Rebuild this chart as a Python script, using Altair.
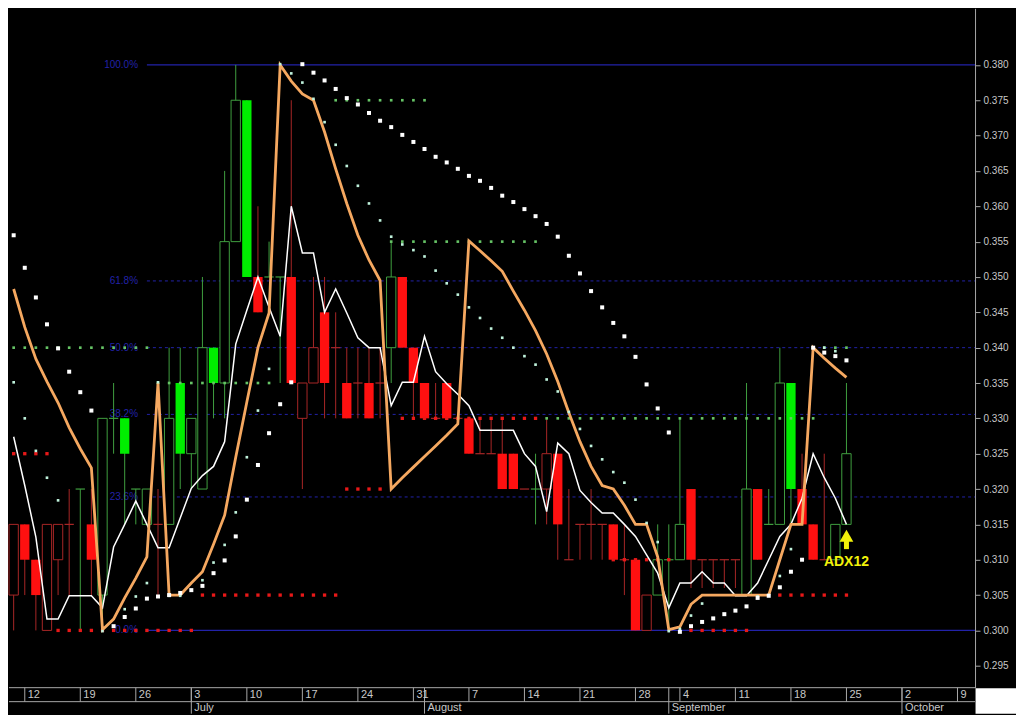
import altair as alt
import pandas as pd

# ---------------- layout ----------------
W, H = 967, 680          # plot area
ROW1, ROW2 = 14, 26      # bottom band rows (day row, month row)
RIGHT = 41               # right axis strip

X_MIN, X_MAX = -1.42, 85.58      # trading-day index domain (0 = 12 June)
Y_MIN, Y_MAX = 0.2919, 0.3880

BG = "black"
AX_LINE = "#a8a8a8"
AX_TEXT = "#c8c8c8"
G_FILL, G_LINE = "#00ee00", "#3f9f3f"
R_FILL, R_LINE = "#ff1010", "#a82626"
FIB = "#2222a8"
ORANGE = "#f5a860"
YELLOW = "#f2f20a"

# ---------------- data ----------------
idx = list(range(-1, 75))
opens = [0.305, 0.315, 0.310, 0.300, 0.310, 0.315, 0.320, 0.315, 0.305, 0.330,
         0.330, 0.320, 0.315, 0.315, 0.315, 0.335, 0.325, 0.320, 0.340, 0.335,
         0.355, 0.375, 0.350, 0.350, 0.350, 0.350, 0.330, 0.335, 0.345, 0.340,
         0.335, 0.335, 0.335, 0.335, 0.340, 0.350, 0.340, 0.335, 0.330, 0.335,
         0.330, 0.330, 0.325, 0.325, 0.325, 0.325, 0.320, 0.320, 0.320, 0.325,
         0.310, 0.315, 0.315, 0.315, 0.315, 0.310, 0.310, 0.300, 0.305, 0.310,
         0.310, 0.320, 0.310, 0.310, 0.310, 0.310, 0.305, 0.320, 0.315, 0.315,
         0.335, 0.320, 0.315, 0.310, 0.310, 0.315]
highs = [0.315, 0.315, 0.310, 0.315, 0.315, 0.320, 0.320, 0.320, 0.330, 0.335,
         0.330, 0.320, 0.320, 0.320, 0.340, 0.340, 0.330, 0.350, 0.340, 0.365,
         0.380, 0.375, 0.360, 0.355, 0.350, 0.375, 0.335, 0.350, 0.350, 0.345,
         0.340, 0.340, 0.340, 0.340, 0.355, 0.350, 0.340, 0.335, 0.335, 0.335,
         0.330, 0.330, 0.330, 0.330, 0.330, 0.325, 0.320, 0.325, 0.330, 0.325,
         0.320, 0.315, 0.320, 0.315, 0.315, 0.315, 0.310, 0.305, 0.315, 0.315,
         0.330, 0.320, 0.310, 0.310, 0.310, 0.310, 0.335, 0.320, 0.320, 0.340,
         0.335, 0.325, 0.315, 0.325, 0.315, 0.335]
lows = [0.300, 0.305, 0.300, 0.300, 0.305, 0.305, 0.300, 0.305, 0.300, 0.325,
        0.315, 0.315, 0.315, 0.305, 0.315, 0.320, 0.320, 0.320, 0.330, 0.330,
        0.355, 0.350, 0.345, 0.350, 0.335, 0.335, 0.320, 0.335, 0.330, 0.330,
        0.330, 0.330, 0.330, 0.330, 0.335, 0.340, 0.330, 0.330, 0.330, 0.330,
        0.330, 0.325, 0.325, 0.325, 0.320, 0.320, 0.320, 0.315, 0.315, 0.310,
        0.310, 0.310, 0.310, 0.310, 0.310, 0.305, 0.300, 0.300, 0.305, 0.300,
        0.310, 0.306, 0.306, 0.306, 0.306, 0.306, 0.305, 0.310, 0.315, 0.315,
        0.315, 0.315, 0.310, 0.310, 0.310, 0.315]
closes = [0.315, 0.310, 0.305, 0.315, 0.315, 0.315, 0.320, 0.310, 0.330, 0.330,
          0.325, 0.320, 0.320, 0.315, 0.330, 0.325, 0.330, 0.340, 0.335, 0.355,
          0.375, 0.350, 0.345, 0.350, 0.350, 0.335, 0.335, 0.340, 0.335, 0.340,
          0.330, 0.335, 0.330, 0.335, 0.350, 0.340, 0.335, 0.330, 0.330, 0.330,
          0.330, 0.325, 0.325, 0.325, 0.320, 0.320, 0.320, 0.320, 0.325, 0.315,
          0.310, 0.315, 0.315, 0.315, 0.310, 0.310, 0.300, 0.305, 0.310, 0.310,
          0.315, 0.310, 0.310, 0.310, 0.310, 0.310, 0.320, 0.310, 0.315, 0.335,
          0.320, 0.315, 0.310, 0.310, 0.315, 0.325]
colors = ["r", "r", "r", "r", "r", "r", "g", "r", "g", "g",
          "g", "g", "g", "r", "g", "g", "g", "g", "g", "g",
          "g", "g", "r", "g", "g", "r", "r", "r", "r", "r",
          "r", "r", "r", "r", "g", "r", "r", "r", "r", "r",
          "r", "r", "r", "r", "r", "r", "r", "g", "r", "r",
          "r", "r", "r", "r", "r", "r", "r", "r", "g", "g",
          "g", "r", "r", "r", "r", "r", "g", "r", "g", "g",
          "g", "r", "r", "r", "g", "g"]
styles = ["hollow", "filled", "filled", "hollow", "hollow", "doji", "doji", "filled", "hollow", "doji",
          "filled", "doji", "hollow", "doji", "hollow", "filled", "hollow", "hollow", "filled", "hollow",
          "hollow", "filled", "filled", "doji", "doji", "filled", "hollow", "hollow", "filled", "doji",
          "filled", "doji", "filled", "doji", "hollow", "filled", "filled", "filled", "doji", "filled",
          "doji", "filled", "doji", "doji", "filled", "filled", "doji", "doji", "hollow", "filled",
          "doji", "doji", "doji", "doji", "filled", "doji", "filled", "hollow", "hollow", "doji",
          "hollow", "filled", "doji", "doji", "doji", "doji", "hollow", "filled", "doji", "hollow",
          "filled", "filled", "filled", "doji", "hollow", "hollow"]

white_line = [0.3274, 0.3205, 0.3132, 0.3016, 0.3016, 0.3049, 0.3049, 0.3049, 0.3032, 0.3118,
              0.3150, 0.3183, 0.3150, 0.3117, 0.3117, 0.3159, 0.3201, 0.3219, 0.3232, 0.3267,
              0.3405, 0.3453, 0.3500, 0.3457, 0.3416, 0.3600, 0.3534, 0.3534, 0.3450, 0.3483,
              0.3449, 0.3414, 0.3400, 0.3400, 0.3318, 0.3351, 0.3351, 0.3416, 0.3366, 0.3349,
              0.3334, 0.3318, 0.3283, 0.3283, 0.3283, 0.3283, 0.3250, 0.3232, 0.3168, 0.3265,
              0.3250, 0.3198, 0.3181, 0.3166, 0.3166, 0.3150, 0.3133, 0.3107, 0.3081, 0.3032,
              0.3067, 0.3067, 0.3083, 0.3067, 0.3067, 0.3049, 0.3049, 0.3067, 0.3100, 0.3133,
              0.3150, 0.3187, 0.3250, 0.3216, 0.3187, 0.3150]
orange_line = [0.3483, 0.3429, 0.3384, 0.3352, 0.3322, 0.3287, 0.3257, 0.3230, 0.3001, 0.3016,
               0.3046, 0.3074, 0.3104, 0.3350, 0.3050, 0.3050, 0.3067, 0.3083, 0.3122, 0.3163,
               0.3245, 0.3323, 0.3400, 0.3449, 0.3800, 0.3777, 0.3759, 0.3750, 0.3705, 0.3653,
               0.3604, 0.3559, 0.3524, 0.3495, 0.3200, 0.3216, 0.3231, 0.3246, 0.3261, 0.3276,
               0.3292, 0.3551, 0.3537, 0.3523, 0.3508, 0.3480, 0.3453, 0.3424, 0.3391, 0.3352,
               0.3308, 0.3267, 0.3232, 0.3205, 0.3200, 0.3177, 0.3150, 0.3150, 0.3104, 0.3001,
               0.3005, 0.3037, 0.3050, 0.3050, 0.3050, 0.3050, 0.3050, 0.3050, 0.3050, 0.3100,
               0.3150, 0.3150, 0.3400, 0.3385, 0.3371, 0.3358]
sar_white = [0.3559, 0.3513, 0.3471, 0.3433, 0.3399, 0.3366, 0.3337, 0.3311, None, 0.3006,
             0.3019, 0.3031, 0.3045, 0.3048, 0.3050, 0.3053, 0.3057, 0.3063, 0.3081, 0.3099,
             0.3133, 0.3185, 0.3234, 0.3279, 0.3320, 0.3351, 0.3801, 0.3789, 0.3778, 0.3766,
             0.3753, 0.3744, 0.3732, 0.3721, 0.3712, 0.3701, 0.3691, 0.3681, 0.3670, 0.3662,
             0.3653, 0.3643, 0.3636, 0.3626, 0.3615, 0.3606, 0.3596, 0.3586, 0.3575, 0.3557,
             0.3530, 0.3505, 0.3480, 0.3457, 0.3435, 0.3416, 0.3387, 0.3348, 0.3314, 0.3280,
             0.2998, 0.3006, 0.3012, 0.3017, 0.3023, 0.3028, 0.3034, 0.3046, 0.3049, 0.3061,
             0.3083, 0.3100, 0.3400, 0.3393, 0.3388, 0.3382]
sar_small = [0.3351, 0.3300, 0.3254, 0.3216, 0.3184, None, None, None, 0.2999, None,
             0.3030, 0.3048, 0.3067, 0.3351, 0.3049, 0.3049, None, 0.3071, 0.3096, 0.3121,
             0.3167, 0.3245, 0.3311, 0.3370, 0.3801, 0.3788, 0.3775, 0.3752, 0.3719, 0.3687,
             0.3657, 0.3629, 0.3604, 0.3580, 0.3557, 0.3546, 0.3538, 0.3529, 0.3509, 0.3491,
             0.3475, 0.3457, 0.3442, 0.3427, 0.3414, 0.3400, 0.3388, 0.3376, 0.3355, 0.3338,
             0.3309, 0.3285, 0.3261, 0.3242, 0.3224, 0.3209, 0.3185, 0.3152, 0.3125, 0.2999,
             0.3002, 0.3021, 0.3038, None, None, None, None, 0.3048, 0.3050, 0.3077,
             0.3115, None, None, 0.3400, 0.3395, None]

# dotted support / resistance levels
lvl_start = [-1, 12, 28, 33, 47, 72, -1, 3, 16, 29, 34, 53, 60, 68]
lvl_end = [11, 22, 36, 46, 71, 74, 2, 15, 28, 32, 46, 58, 65, 74]
lvl_price = [0.340, 0.335, 0.375, 0.355, 0.330, 0.340, 0.325, 0.300, 0.305, 0.320,
             0.330, 0.310, 0.300, 0.305]
lvl_kind = ["g", "g", "g", "g", "g", "g", "r", "r", "r", "r", "r", "r", "r", "r"]

# Fibonacci retracement
fib_price = [0.380, 0.34944, 0.340, 0.33056, 0.31888, 0.300]
fib_label = ["100.0%", "61.8%", "50.0%", "38.2%", "23.6%", "0.0%"]
fib_solid = [True, False, False, False, False, True]
FIB_FROM = 11.0      # index where the retracement lines begin
FIB_LABEL_AT = 10.2  # index where the labels end

# axes
y_ticks = [0.295, 0.300, 0.305, 0.310, 0.315, 0.320, 0.325, 0.330, 0.335, 0.340,
           0.345, 0.350, 0.355, 0.360, 0.365, 0.370, 0.375, 0.380]
day_tick_idx = [0, 5, 10, 15, 20, 25, 30, 35, 40, 45, 50, 55, 59, 64, 69, 74, 79, 84]
day_tick_label = ["12", "19", "26", "3", "10", "17", "24", "31", "7", "14", "21", "28",
                  "4", "11", "18", "25", "2", "9"]
month_idx = [15, 36, 58, 79]
month_label = ["July", "August", "September", "October"]

# annotation
ann_idx = [74]
ann_arrow_head = [0.3134]
ann_shaft_top = [0.3127]
ann_shaft_bot = [0.3115]
ann_text_y = [0.3097]
ann_text = ["ADX12"]

# ---------------- frames ----------------
cd = pd.DataFrame(dict(idx=idx, o=opens, h=highs, l=lows, c=closes, col=colors, sty=styles))
cd["lo"] = cd[["o", "c"]].min(axis=1)
cd["hi"] = cd[["o", "c"]].max(axis=1)
cd["x0"] = cd["idx"] - 0.42
cd["x1"] = cd["idx"] + 0.42

lines = pd.DataFrame(dict(idx=idx, white=white_line, orange=orange_line))
dots_w = pd.DataFrame(dict(idx=idx, v=sar_white)).dropna()
dots_s = pd.DataFrame(dict(idx=idx, v=sar_small)).dropna()

lv_rows = []
for s, e, p, k in zip(lvl_start, lvl_end, lvl_price, lvl_kind):
    for i in range(s, e + 1):
        lv_rows.append(dict(idx=i, v=p, kind=k))
lv = pd.DataFrame(lv_rows)

fib = pd.DataFrame(dict(p=fib_price, label=fib_label, solid=fib_solid))
fib["x0"] = FIB_FROM
fib["x1"] = X_MAX
fib["xl"] = FIB_LABEL_AT

days = pd.DataFrame(dict(idx=day_tick_idx, label=day_tick_label))
months = pd.DataFrame(dict(idx=month_idx, label=month_label))
ann = pd.DataFrame(dict(idx=ann_idx, head=ann_arrow_head, st=ann_shaft_top,
                        sb=ann_shaft_bot, ty=ann_text_y, text=ann_text))
one = pd.DataFrame({"a": [0]})

xs = alt.Scale(domain=[X_MIN, X_MAX], nice=False, zero=False)
ys = alt.Scale(domain=[Y_MIN, Y_MAX], nice=False, zero=False)

Y_AX = alt.Axis(orient="right", values=y_ticks, format=".3f", grid=False, title=None,
                domainColor=AX_LINE, tickColor=AX_LINE, tickSize=5, labelPadding=3,
                labelColor=AX_TEXT, labelFont="Liberation Sans", labelFontSize=10)


def X(f):
    return alt.X(f"{f}:Q", scale=xs, axis=None)


def Y(f):
    return alt.Y(f"{f}:Q", scale=ys, axis=Y_AX)


IS_G = "datum.col == 'g'"
line_col = alt.condition(IS_G, alt.value(G_LINE), alt.value(R_LINE))
fill_col = alt.condition(IS_G, alt.value(G_FILL), alt.value(R_FILL))

# Fibonacci lines and labels
fib_solid_l = alt.Chart(fib).transform_filter("datum.solid").mark_rule(color=FIB, strokeWidth=1.3).encode(
    x=X("x0"), x2="x1", y=Y("p"))
fib_dash_l = alt.Chart(fib).transform_filter("!datum.solid").mark_rule(
    color=FIB, strokeWidth=1, strokeDash=[3, 3]).encode(x=X("x0"), x2="x1", y=Y("p"))
fib_txt = alt.Chart(fib).mark_text(align="right", baseline="middle", color=FIB,
                                   font="Liberation Sans", fontSize=10).encode(
    x=X("xl"), y=Y("p"), text="label:N")

# candles
wicks = alt.Chart(cd).mark_rule(strokeWidth=1).encode(x=X("idx"), y=Y("l"), y2="h", color=line_col)
filled = alt.Chart(cd).transform_filter("datum.sty == 'filled'").mark_rect().encode(
    x=X("x0"), x2="x1", y=Y("lo"), y2="hi", color=fill_col)
hollow = alt.Chart(cd).transform_filter("datum.sty == 'hollow'").mark_rect(
    fill=BG, strokeWidth=1).encode(x=X("x0"), x2="x1", y=Y("lo"), y2="hi", stroke=line_col)
doji = alt.Chart(cd).transform_filter("datum.sty == 'doji'").mark_rule(strokeWidth=1.2).encode(
    x=X("x0"), x2="x1", y=Y("o"), color=line_col)

# dotted levels
levels_g = alt.Chart(lv).transform_filter("datum.kind == 'g'").mark_square(
    size=7, opacity=1, color="#66c466").encode(x=X("idx"), y=Y("v"))
levels_r = alt.Chart(lv).transform_filter("datum.kind == 'r'").mark_square(
    size=11, opacity=1, color="#e81818").encode(x=X("idx"), y=Y("v"))

# indicator lines
wl = alt.Chart(lines).mark_line(color="white", strokeWidth=1.5).encode(x=X("idx"), y=Y("white"))
ol = alt.Chart(lines).mark_line(color=ORANGE, strokeWidth=2.8).encode(x=X("idx"), y=Y("orange"))

# SAR dots
dw = alt.Chart(dots_w).mark_square(size=16, color="white", opacity=1).encode(x=X("idx"), y=Y("v"))
dsm = alt.Chart(dots_s).mark_square(size=7, color="#bff2dc", opacity=1).encode(x=X("idx"), y=Y("v"))

# annotation
head = alt.Chart(ann).mark_point(shape="triangle-up", size=190, filled=True, color=YELLOW,
                                 opacity=1).encode(x=X("idx"), y=Y("head"))
shaft = alt.Chart(ann).mark_rule(color=YELLOW, strokeWidth=5).encode(x=X("idx"), y=Y("sb"), y2="st")
atxt = alt.Chart(ann).mark_text(color=YELLOW, fontSize=14, fontWeight="bold", font="Liberation Sans",
                                baseline="middle", align="center").encode(
    x=X("idx"), y=Y("ty"), text="text:N")

# bottom band (date axis)
band_top = alt.Chart(one).mark_rule(color=AX_LINE).encode(
    x=alt.value(0), x2=alt.value(W), y=alt.value(H))
band_mid = alt.Chart(one).mark_rule(color=AX_LINE).encode(
    x=alt.value(0), x2=alt.value(W), y=alt.value(H + ROW1))
day_sep = alt.Chart(days).mark_rule(color=AX_LINE).encode(
    x=X("idx"), y=alt.value(H), y2=alt.value(H + ROW1))
day_txt = alt.Chart(days).mark_text(align="left", baseline="middle", dx=3, color=AX_TEXT,
                                    font="Liberation Sans", fontSize=11).encode(
    x=X("idx"), y=alt.value(H + ROW1 / 2 + 0.5), text="label:N")
mon_sep = alt.Chart(months).mark_rule(color=AX_LINE).encode(
    x=X("idx"), y=alt.value(H), y2=alt.value(H + ROW2))
mon_txt = alt.Chart(months).mark_text(align="left", baseline="middle", dx=3, color=AX_TEXT,
                                      font="Liberation Sans", fontSize=11).encode(
    x=X("idx"), y=alt.value(H + (ROW1 + ROW2) / 2 + 0.5), text="label:N")
corner = alt.Chart(one).mark_rect(color="white").encode(
    x=alt.value(W + 0.5), x2=alt.value(W + RIGHT), y=alt.value(H + 0.5), y2=alt.value(H + ROW2))

chart = alt.layer(
    fib_solid_l, fib_dash_l, fib_txt,
    wicks, filled, hollow, doji,
    levels_g, levels_r,
    wl, ol,
    dsm, dw,
    shaft, head, atxt,
    band_top, band_mid, day_sep, mon_sep, day_txt, mon_txt, corner,
).properties(
    width=W, height=H, background=BG,
    padding={"left": 0, "right": 0, "top": 0, "bottom": 0},
).configure_view(strokeWidth=0)

chart.save("out.html", embed_options={"renderer": "svg", "actions": False})
